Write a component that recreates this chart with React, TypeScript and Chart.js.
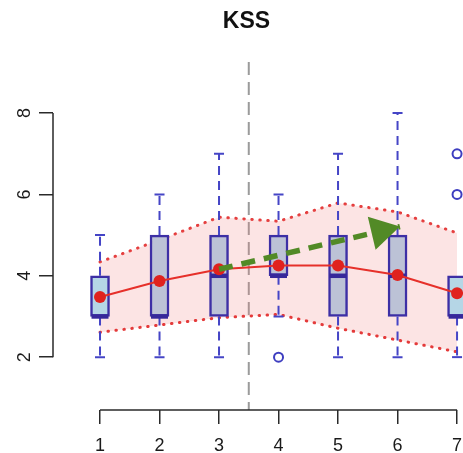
import React, { useEffect, useRef } from 'react';
import { Chart, registerables } from 'chart.js';

Chart.register(...registerables);

// ---- data ----
const categories = [1, 2, 3, 4, 5, 6, 7];
const boxQ1 = [3, 3, 3, 4, 3, 3, 3];
const boxMedian = [3, 3, 4, 4, 4, 4, 3];
const boxQ3 = [4, 5, 5, 5, 5, 5, 4];
const whiskerLow = [2, 2, 2, 3, 2, 2, 2];
const whiskerHigh = [5, 6, 7, 6, 7, 8, 4];
const outlierX = [4, 7, 7];
const outlierY = [2, 6, 7];
const meanValues = [3.48, 3.87, 4.16, 4.25, 4.25, 4.02, 3.57];
const bandUpper = [4.34, 4.88, 5.44, 5.34, 5.79, 5.57, 5.05];
const bandLower = [2.61, 2.79, 2.97, 3.05, 2.71, 2.42, 2.13];
const arrowFrom = [3, 4.16];
const arrowTo = [6.04, 5.21];
const dividerX = 3.5;
const xTicks = [1, 2, 3, 4, 5, 6, 7];
const yTicks = [2, 4, 6, 8];
const xRange = [0.21, 7.1];
const yRange = [0.7, 9.33];
const lightBoxes = [1, 7];

const FONT = "'Liberation Sans', Arial, sans-serif";
const BOX_BORDER = '#3d2fa5';
const WHISKER = '#4545c6';
const AXIS = '#2a2a2a';

const BOX_DS = 2;
const ARROW_DS = 5;

const boxPlugin = {
  id: 'boxWhiskers',
  afterLayout(chart: any) {
    const t = chart.titleBlock;
    if (t) t.left = 30;
  },
  afterDatasetDraw(chart: any, args: any) {
    const { ctx, scales } = chart;
    const x = scales.x;
    const y = scales.y;
    if (args.index === BOX_DS) {
      const meta = chart.getDatasetMeta(BOX_DS);
      ctx.save();
      categories.forEach((c, i) => {
        const px = x.getPixelForValue(c);
        const half = meta.data[i].width / 2;
        const yq1 = y.getPixelForValue(boxQ1[i]);
        const yq3 = y.getPixelForValue(boxQ3[i]);
        const ylo = y.getPixelForValue(whiskerLow[i]);
        const yhi = y.getPixelForValue(whiskerHigh[i]);
        ctx.strokeStyle = WHISKER;
        ctx.lineWidth = 2;
        ctx.setLineDash([9, 6]);
        ctx.beginPath();
        if (whiskerHigh[i] > boxQ3[i]) {
          ctx.moveTo(px, yq3);
          ctx.lineTo(px, yhi);
        }
        if (whiskerLow[i] < boxQ1[i]) {
          ctx.moveTo(px, yq1);
          ctx.lineTo(px, ylo);
        }
        ctx.stroke();
        ctx.setLineDash([]);
        ctx.beginPath();
        if (whiskerHigh[i] > boxQ3[i]) {
          ctx.moveTo(px - 5, yhi);
          ctx.lineTo(px + 5, yhi);
        }
        if (whiskerLow[i] < boxQ1[i]) {
          ctx.moveTo(px - 5, ylo);
          ctx.lineTo(px + 5, ylo);
        }
        ctx.stroke();
        // median
        const ym = y.getPixelForValue(boxMedian[i]);
        ctx.strokeStyle = '#36289a';
        ctx.lineWidth = 4.5;
        ctx.beginPath();
        ctx.moveTo(px - half + 1, ym);
        ctx.lineTo(px + half - 1, ym);
        ctx.stroke();
      });
      ctx.restore();
    }
    if (args.index === ARROW_DS) {
      const x0 = x.getPixelForValue(arrowFrom[0]);
      const y0 = y.getPixelForValue(arrowFrom[1]);
      const x1 = x.getPixelForValue(arrowTo[0]);
      const y1 = y.getPixelForValue(arrowTo[1]);
      const dx = x1 - x0;
      const dy = y1 - y0;
      const len = Math.hypot(dx, dy);
      const ux = dx / len;
      const uy = dy / len;
      const hl = 29;
      const hw = 17;
      const bx = x1 - ux * hl;
      const by = y1 - uy * hl;
      ctx.save();
      ctx.fillStyle = '#528a26';
      ctx.beginPath();
      ctx.moveTo(x1, y1);
      ctx.lineTo(bx - uy * hw, by + ux * hw);
      ctx.lineTo(bx + uy * hw, by - ux * hw);
      ctx.closePath();
      ctx.fill();
      ctx.restore();
    }
  },
  beforeDatasetsDraw(chart: any) {
    const { ctx, chartArea, scales } = chart;
    const px = scales.x.getPixelForValue(dividerX);
    ctx.save();
    ctx.strokeStyle = '#9b9b9b';
    ctx.lineWidth = 2;
    ctx.setLineDash([13, 7]);
    ctx.beginPath();
    ctx.moveTo(px, chartArea.top + 3);
    ctx.lineTo(px, chartArea.bottom);
    ctx.stroke();
    ctx.restore();
  },
  afterDraw(chart: any) {
    const { ctx, chartArea, scales } = chart;
    ctx.save();
    ctx.strokeStyle = AXIS;
    ctx.lineWidth = 1.5;
    ctx.beginPath();
    ctx.moveTo(scales.x.getPixelForValue(xTicks[0]), chartArea.bottom);
    ctx.lineTo(scales.x.getPixelForValue(xTicks[xTicks.length - 1]), chartArea.bottom);
    ctx.moveTo(chartArea.left, scales.y.getPixelForValue(yTicks[0]));
    ctx.lineTo(chartArea.left, scales.y.getPixelForValue(yTicks[yTicks.length - 1]));
    ctx.stroke();
    ctx.restore();
  },
};

export default function App() {
  const ref = useRef<HTMLCanvasElement | null>(null);

  useEffect(() => {
    if (!ref.current) return;
    const bandStyle = {
      type: 'line' as const,
      borderColor: '#e43a3a',
      borderWidth: 3,
      borderDash: [0.5, 7.5],
      borderCapStyle: 'round' as const,
      pointRadius: 0,
      tension: 0,
    };
    const chart = new Chart(ref.current, {
      type: 'line',
      data: {
        datasets: [
          {
            ...bandStyle,
            data: categories.map((c, i) => ({ x: c, y: bandUpper[i] })),
            fill: false,
            order: 10,
          },
          {
            ...bandStyle,
            data: categories.map((c, i) => ({ x: c, y: bandLower[i] })),
            fill: { target: '-1' },
            backgroundColor: 'rgba(238, 120, 120, 0.2)',
            order: 9,
          } as any,
          {
            type: 'bar',
            data: categories.map((c, i) => ({ x: c, y: [boxQ1[i], boxQ3[i]] })),
            backgroundColor: categories.map((c) => (lightBoxes.includes(c) ? '#b5d6e6' : '#bcc2d6')),
            borderColor: BOX_BORDER,
            borderWidth: 2.5,
            borderSkipped: false,
            barThickness: 19,
            order: 8,
          } as any,
          {
            type: 'line',
            data: outlierX.map((v, i) => ({ x: v, y: outlierY[i] })),
            showLine: false,
            pointRadius: 4.5,
            pointBorderWidth: 2,
            pointBorderColor: '#3e3ec0',
            pointBackgroundColor: 'rgba(0,0,0,0)',
            order: 6,
          },
          {
            type: 'line',
            data: categories.map((c, i) => ({ x: c, y: meanValues[i] })),
            borderColor: '#e6302a',
            borderWidth: 2,
            pointRadius: 6,
            pointBackgroundColor: '#e0221e',
            pointBorderColor: '#e0221e',
            pointBorderWidth: 0,
            tension: 0,
            order: 4,
          },
          {
            type: 'line',
            data: [
              { x: arrowFrom[0], y: arrowFrom[1] },
              { x: arrowTo[0], y: arrowTo[1] },
            ],
            borderColor: '#528a26',
            borderWidth: 5.5,
            borderDash: [14, 9],
            pointRadius: 0,
            order: 2,
          },
        ],
      },
      options: {
        animation: false,
        responsive: false,
        devicePixelRatio: 1,
        events: [],
        layout: { autoPadding: false, padding: { left: 0, right: 0, top: 0, bottom: 0 } },
        plugins: {
          legend: { display: false },
          tooltip: { enabled: false },
          title: {
            display: true,
            text: 'KSS',
            color: '#111',
            font: { family: FONT, size: 23, weight: 'bold' },
            padding: { top: 8, bottom: 23.4 },
          },
        },
        scales: {
          x: {
            type: 'linear',
            min: xRange[0],
            max: xRange[1],
            offset: false,
            border: { display: false },
            grid: { drawOnChartArea: false, drawTicks: true, tickLength: 14, color: AXIS, lineWidth: 1.5, offset: false },
            ticks: {
              color: '#1a1a1a',
              font: { family: FONT, size: 18, lineHeight: 2.5 },
              padding: 0,
              maxRotation: 0,
              minRotation: 0,
            },
            afterBuildTicks: (s: any) => {
              s.ticks = xTicks.map((v) => ({ value: v }));
            },
            afterFit: (s: any) => {
              s.height = 43;
              s.paddingLeft = 0;
              s.paddingRight = 0;
            },
          },
          y: {
            type: 'linear',
            min: yRange[0],
            max: yRange[1],
            border: { display: false },
            grid: { drawOnChartArea: false, drawTicks: true, tickLength: 14, color: AXIS, lineWidth: 1.5 },
            ticks: {
              color: '#1a1a1a',
              font: { family: FONT, size: 18 },
              padding: 9,
              minRotation: 90,
              maxRotation: 90,
              crossAlign: 'center',
            },
            afterBuildTicks: (s: any) => {
              s.ticks = yTicks.map((v) => ({ value: v }));
            },
            afterFit: (s: any) => {
              s.width = 53;
              s.paddingTop = 0;
              s.paddingBottom = 0;
            },
          },
        },
      } as any,
      plugins: [boxPlugin],
    });
    return () => chart.destroy();
  }, []);

  return (
    <div style={{ position: 'absolute', left: 0, top: 0, width: 463, height: 453, background: '#fff' }}>
      <canvas ref={ref} width={463} height={453} />
    </div>
  );
}
